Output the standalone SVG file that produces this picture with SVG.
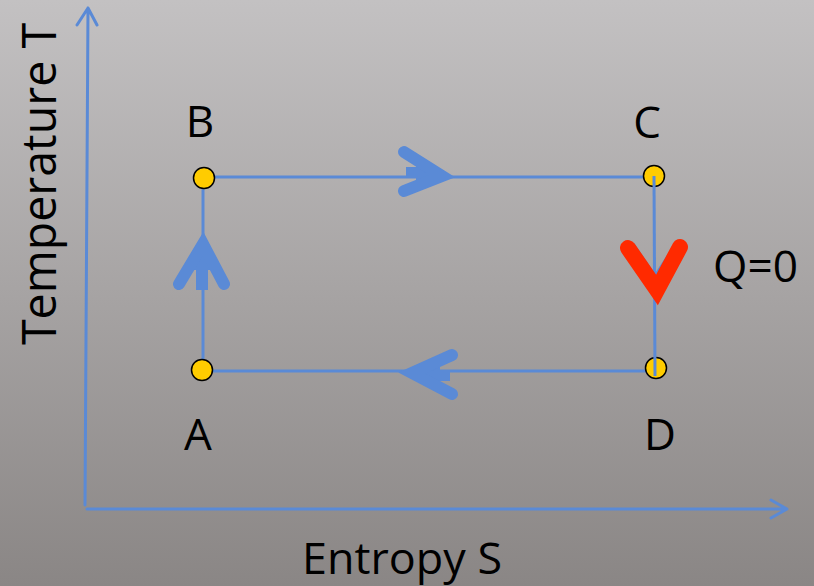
<svg xmlns="http://www.w3.org/2000/svg" width="814" height="586" viewBox="0 0 814 586">
<defs>
<linearGradient id="bg" x1="0" y1="0" x2="0" y2="1">
<stop offset="0" stop-color="#c3c1c2"/>
<stop offset="1" stop-color="#8a8685"/>
</linearGradient>
<style>
.ax{stroke:#5a8ad6;stroke-width:3;fill:none;stroke-linecap:round;stroke-linejoin:round}
.edge{stroke:#5a8ad6;stroke-width:3;fill:none}
.chev{stroke:#5a8ad6;stroke-width:12;fill:none;stroke-linecap:round;stroke-linejoin:miter;stroke-miterlimit:10}
.stem{fill:#5a8ad6}
.pt{fill:#ffcc00;stroke:#000;stroke-width:1.5}
.lbl{font-family:"Open Sans","Liberation Sans",sans-serif;font-size:44px;fill:#000}
</style>
</defs>
<rect width="814" height="586" fill="url(#bg)"/>
<g id="axes">
<path class="ax" d="M85,505 L88,8 M77,25 L88,8 L97,25"/>
<path class="ax" d="M87,509 L787,509 M771,500 L787,509 L771,518"/>
</g>
<g id="connectors">
<path class="edge" d="M203,370 L203,178"/>
<path class="edge" d="M203,177 L654,177"/>
<path class="edge" d="M655,371 L203,371"/>
<rect class="stem" x="196" y="262" width="12" height="28"/>
<polygon class="stem" points="203,244 188,270 218,270"/>
<polyline class="chev" points="179,284 203,244 224,284"/>
<rect class="stem" x="406" y="167" width="28" height="11"/>
<polygon class="stem" points="442,176 416,160 416,186"/>
<polyline class="chev" points="404,152 442,176 404,191"/>
<rect class="stem" x="424" y="370" width="26" height="11"/>
<polygon class="stem" points="412,373 440,360 440,387"/>
<polyline class="chev" points="452,355 412,373 452,394"/>
</g>
<g id="A"><circle class="pt" cx="202" cy="370" r="10.5"/><text class="lbl" x="198" y="450" text-anchor="middle">A</text></g>
<g id="B"><circle class="pt" cx="204" cy="178" r="10.5"/><text class="lbl" x="200" y="137" text-anchor="middle">B</text></g>
<g id="C"><circle class="pt" cx="654" cy="176" r="10.5"/><text class="lbl" x="647" y="138" text-anchor="middle">C</text></g>
<g id="D"><circle class="pt" cx="656" cy="368" r="10.5"/><text class="lbl" x="660" y="450" text-anchor="middle">D</text></g>
<g id="connector-CD">
<path class="edge" d="M654,176 L655,376"/>
<polyline class="edge" points="633,244 655,276 676,244"/>
<polyline points="628,248 657,290 680,247" fill="none" stroke="#ff2a00" stroke-width="16" stroke-linecap="round" stroke-linejoin="miter" stroke-miterlimit="10"/>
</g>
<g id="labels">
<text class="lbl" x="713" y="282" textLength="85" lengthAdjust="spacingAndGlyphs">Q=0</text>
<text class="lbl" x="302" y="574" textLength="200" lengthAdjust="spacingAndGlyphs">Entropy S</text>
<text class="lbl" transform="translate(56,345) rotate(-90)" x="0" y="0" style="font-size:47px" textLength="322" lengthAdjust="spacingAndGlyphs">Temperature T</text>
</g>
</svg>
